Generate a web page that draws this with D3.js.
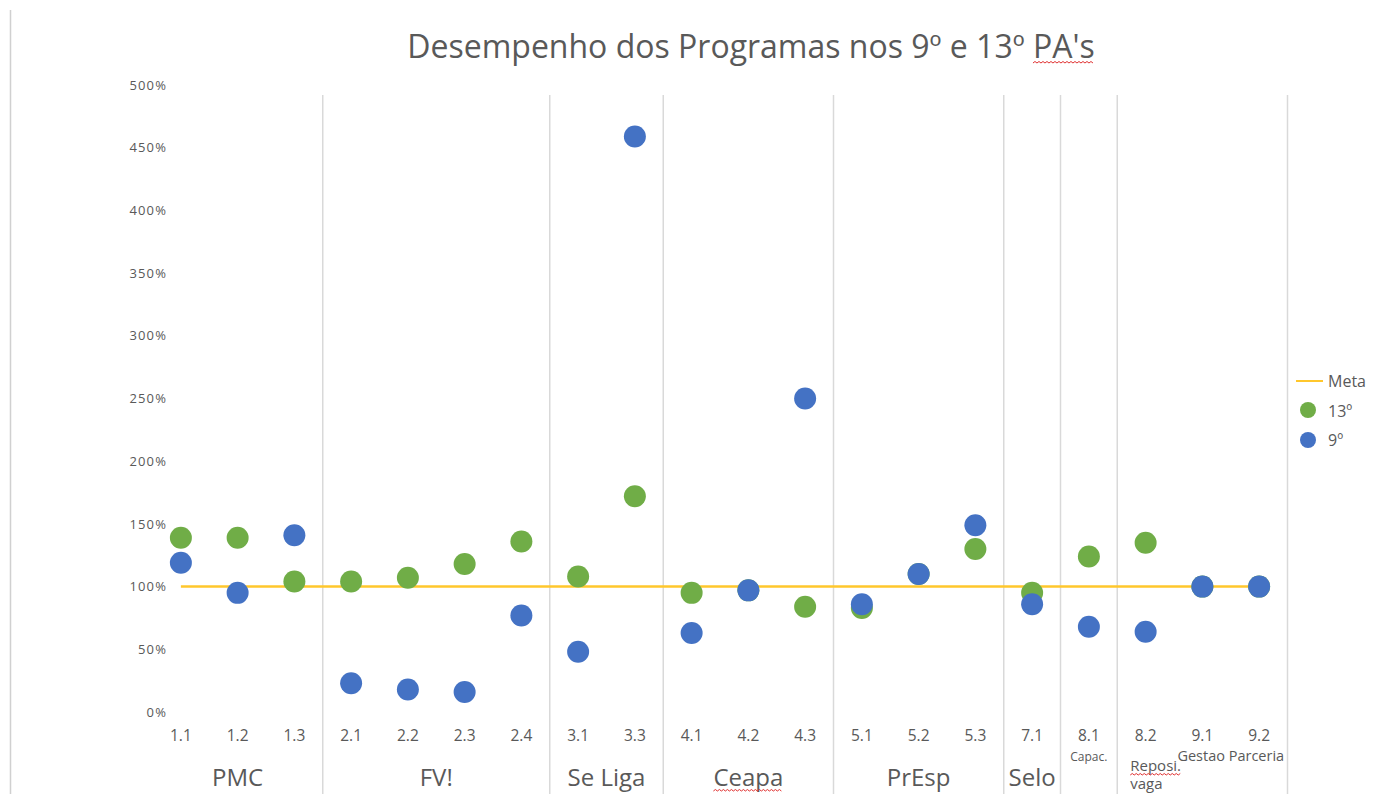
<!DOCTYPE html>
<html>
<head>
<meta charset="utf-8">
<script src="https://cdn.jsdelivr.net/npm/d3@7"></script>
<style>
    body { margin: 0; background: #fff; }
    svg { display: block; }
</style>
</head>
<body>
<div id="chart"></div>
<script>
// Categories on the x axis and the program group each one belongs to.
const categories = ['1.1', '1.2', '1.3', '2.1', '2.2', '2.3', '2.4', '3.1', '3.3', '4.1', '4.2', '4.3', '5.1', '5.2', '5.3', '7.1', '8.1', '8.2', '9.1', '9.2'];
const groups = ['PMC', 'PMC', 'PMC', 'FV!', 'FV!', 'FV!', 'FV!', 'Se Liga', 'Se Liga', 'Ceapa', 'Ceapa', 'Ceapa', 'PrEsp', 'PrEsp', 'PrEsp', 'Selo', 'Capac.', 'Reposi. vaga', 'Gestao Parceria', 'Gestao Parceria'];
// Categories followed by a separator line (the original has none after 8.2).
const separatorAfter = ['1.3', '2.4', '3.3', '4.3', '5.3', '7.1', '8.1', '9.2'];

// Performance values (1 = 100%).
const values13 = [1.39, 1.39, 1.04, 1.04, 1.07, 1.18, 1.36, 1.08, 1.72, 0.95, 0.97, 0.84, 0.83, 1.10, 1.30, 0.95, 1.24, 1.35, 1.00, 1.00];
const values9 = [1.19, 0.95, 1.41, 0.23, 0.18, 0.16, 0.77, 0.48, 4.59, 0.63, 0.97, 2.50, 0.86, 1.10, 1.49, 0.86, 0.68, 0.64, 1.00, 1.00];
const meta = 1.0;

const yTicks = [0, 0.5, 1, 1.5, 2, 2.5, 3, 3.5, 4, 4.5, 5];
const seriesNames = ['Meta', '13º', '9º'];

const width = 1390,
    height = 794,
    textColor = '#595959',
    gridColor = '#d9d9d9',
    green = '#70ad47',
    blue = '#4472c4',
    gold = '#ffc72c',
    font = '"Open Sans", sans-serif';

const svg = d3.select( '#chart' )
    .append( 'svg' )
    .attr( 'width', width )
    .attr( 'height', height )
    .attr( 'viewBox', [0, 0, width, height] );

const x = d3.scaleBand()
    .domain( categories )
    .range( [152.5, 1287.5] )
    .padding( 0 );

const y = d3.scaleLinear()
    .domain( [0, 5] )
    .range( [712, 85] );

const cx = d => x( d ) + x.bandwidth() / 2;

// Chart area border on the left.
svg.append( 'line' )
    .attr( 'x1', 10.5 ).attr( 'x2', 10.5 )
    .attr( 'y1', 10 ).attr( 'y2', height )
    .attr( 'stroke', '#d0d0d0' )
    .attr( 'stroke-width', 1.5 );

// Title.
const title = svg.append( 'text' )
    .attr( 'x', 751 )
    .attr( 'y', 45 )
    .attr( 'text-anchor', 'middle' )
    .attr( 'dominant-baseline', 'central' )
    .attr( 'font-family', font )
    .attr( 'font-size', 32 )
    .attr( 'fill', textColor )
    .text( "Desempenho dos Programas nos 9º e 13º PA's" );

// Group spans, used for the group labels.
const groupInfo = [];
groups.forEach( ( g, i ) => {
    const last = groupInfo[groupInfo.length - 1];
    if ( last && last.name === g ) {
        last.end = categories[i];
    }
    else {
        groupInfo.push( { name: g, start: categories[i], end: categories[i] } );
    }
} );

svg.append( 'g' )
    .selectAll( 'line' )
    .data( separatorAfter )
    .join( 'line' )
        .attr( 'x1', d => x( d ) + x.bandwidth() )
        .attr( 'x2', d => x( d ) + x.bandwidth() )
        .attr( 'y1', 95 )
        .attr( 'y2', height )
        .attr( 'stroke', gridColor )
        .attr( 'stroke-width', 1.5 );

// Y axis labels.
svg.append( 'g' )
    .attr( 'transform', 'translate(167,0)' )
    .call( d3.axisLeft( y ).tickValues( yTicks ).tickFormat( d3.format( '.0%' ) ).tickSize( 0 ).tickPadding( 0 ) )
    .call( g => g.select( '.domain' ).remove() )
    .call( g => g.selectAll( 'text' )
        .attr( 'font-family', font )
        .attr( 'font-size', 13 )
        .attr( 'letter-spacing', 1.1 )
        .attr( 'fill', textColor ) );

// Category labels.
svg.append( 'g' )
    .attr( 'transform', 'translate(0,735)' )
    .call( d3.axisBottom( x ).tickSize( 0 ).tickPadding( 0 ) )
    .call( g => g.select( '.domain' ).remove() )
    .call( g => g.selectAll( 'text' )
        .attr( 'dy', null )
        .attr( 'dominant-baseline', 'central' )
        .attr( 'font-family', font )
        .attr( 'font-size', 15.5 )
        .attr( 'fill', textColor ) );

// Group labels.
const groupStyle = {
    'Capac.': { size: 12, y: 756, lh: 0, dx: 0 },
    'Reposi. vaga': { size: 15, y: 765, lh: 18, dx: 13 },
    'Gestao Parceria': { size: 14.5, y: 755, lh: 0, dx: 0 }
};
const groupLabels = svg.append( 'g' )
    .selectAll( 'text' )
    .data( groupInfo )
    .join( 'text' )
        .attr( 'x', d => ( x( d.start ) + x( d.end ) + x.bandwidth() ) / 2 )
        .attr( 'y', d => groupStyle[d.name] ? groupStyle[d.name].y : 776 )
        .attr( 'text-anchor', 'middle' )
        .attr( 'dominant-baseline', 'central' )
        .attr( 'font-family', font )
        .attr( 'font-size', d => groupStyle[d.name] ? groupStyle[d.name].size : 24 )
        .attr( 'fill', textColor );

groupLabels.each( function ( d ) {
    const st = groupStyle[d.name];
    const el = d3.select( this );
    if ( st && st.lh ) {
        // wrapped label, left aligned inside its band
        const xPos = x( d.start ) + st.dx;
        el.attr( 'text-anchor', 'start' );
        d.name.split( ' ' ).forEach( ( w, i ) => {
            el.append( 'tspan' ).attr( 'x', xPos ).attr( 'dy', i === 0 ? 0 : st.lh ).text( w );
        } );
    }
    else {
        el.text( d.name );
    }
} );

// Red spell-check squiggles.
function squiggle( x0, x1, yy ) {
    let p = 'M' + x0 + ',' + yy;
    let up = true;
    for ( let xx = x0 + 2; xx <= x1; xx += 2 ) {
        p += 'L' + xx + ',' + ( up ? yy - 1.5 : yy );
        up = !up;
    }
    svg.append( 'path' )
        .attr( 'd', p )
        .attr( 'fill', 'none' )
        .attr( 'stroke', '#e03030' )
        .attr( 'stroke-width', 1 );
}
( function () {
    const t = title.node();
    const txt = t.textContent;
    const i = txt.indexOf( "PA's" );
    const s = t.getStartPositionOfChar( i ).x;
    squiggle( s, s + t.getSubStringLength( i, 4 ), 63 );
    groupLabels.each( function ( d ) {
        if ( d.name === 'Ceapa' ) {
            const b = this.getBBox();
            squiggle( b.x, b.x + b.width, 791 );
        }
        if ( d.name === 'Reposi. vaga' ) {
            const b = this.firstChild.getBBox();
            squiggle( b.x, b.x + b.width, 775 );
        }
    } );
} )();

// Meta line.
svg.append( 'line' )
    .attr( 'x1', cx( categories[0] ) )
    .attr( 'x2', cx( categories[categories.length - 1] ) )
    .attr( 'y1', y( meta ) )
    .attr( 'y2', y( meta ) )
    .attr( 'stroke', gold )
    .attr( 'stroke-width', 2.5 );

// 13º then 9º on top.
svg.append( 'g' )
    .selectAll( 'circle' )
    .data( values13 )
    .join( 'circle' )
        .attr( 'cx', ( d, i ) => cx( categories[i] ) )
        .attr( 'cy', d => y( d ) )
        .attr( 'r', 11 )
        .attr( 'fill', green );

svg.append( 'g' )
    .selectAll( 'circle' )
    .data( values9 )
    .join( 'circle' )
        .attr( 'cx', ( d, i ) => cx( categories[i] ) )
        .attr( 'cy', d => y( d ) )
        .attr( 'r', 11 )
        .attr( 'fill', blue );

// Legend.
const legend = svg.append( 'g' ).attr( 'transform', 'translate(1296,381)' );
legend.append( 'line' )
    .attr( 'x1', 0 ).attr( 'x2', 27 )
    .attr( 'y1', 0 ).attr( 'y2', 0 )
    .attr( 'stroke', gold )
    .attr( 'stroke-width', 2 );
legend.append( 'circle' ).attr( 'cx', 12 ).attr( 'cy', 29 ).attr( 'r', 8 ).attr( 'fill', green );
legend.append( 'circle' ).attr( 'cx', 12 ).attr( 'cy', 59 ).attr( 'r', 8 ).attr( 'fill', blue );
legend.selectAll( 'text' )
    .data( seriesNames )
    .join( 'text' )
        .attr( 'x', 32 )
        .attr( 'y', ( d, i ) => i * 29.5 )
        .attr( 'dominant-baseline', 'central' )
        .attr( 'font-family', font )
        .attr( 'font-size', 16 )
        .attr( 'fill', textColor )
        .text( d => d );
</script>
</body>
</html>
